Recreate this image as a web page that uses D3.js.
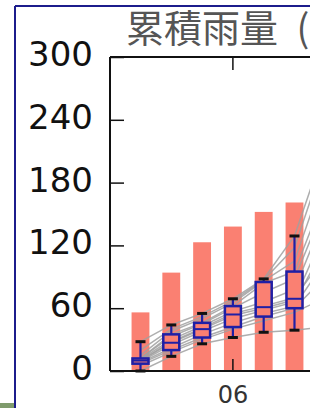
<!DOCTYPE html>
<html>
<head>
<meta charset="utf-8">
<script src="https://cdn.jsdelivr.net/npm/d3@7"></script>
<style>
  body { margin: 0; background: #fff; }
  svg { display: block; }
</style>
</head>
<body>
<script>
let width = 310,
    height = 408;

// months shown on the x axis (only the first six fit in the crop)
let months = ["03", "04", "05", "06", "07", "08", "09"];
let tickMonths = ["06"];
let yTicks = [0, 60, 120, 180, 240, 300];

// mean cumulative rainfall (bars)
let barValues = [56, 94, 123, 138, 152, 161];

// box plot stats per month
let boxLow  = [0, 14, 26, 32, 37, 39];
let boxQ1   = [7, 20, 32, 42, 52, 60];
let boxMed  = [10, 27, 40, 54, 61, 69];
let boxQ3   = [12, 35, 46, 62, 85, 95];
let boxHigh = [28, 44, 55, 69, 88, 129];

// individual years (grey lines)
let yearLines = [
  [0, 14, 26, 32, 37, 39, 42],
  [5, 18, 30, 40, 48, 56, 70],
  [7, 20, 32, 42, 52, 60, 90],
  [8, 22, 35, 46, 55, 62, 105],
  [9, 25, 38, 50, 58, 66, 120],
  [10, 27, 40, 53, 60, 68, 135],
  [10, 28, 41, 55, 62, 70, 110],
  [11, 30, 43, 57, 66, 78, 150],
  [12, 33, 45, 60, 75, 88, 160],
  [12, 35, 46, 62, 84, 95, 170],
  [15, 38, 50, 65, 86, 105, 190],
  [20, 40, 52, 67, 87, 118, 205],
  [28, 44, 55, 69, 88, 129, 215]
];

let svg = d3.select("body")
            .append("svg")
            .attr("width", width)
            .attr("height", height);

// outer frame of the screenshot
svg.append("rect").attr("x", 0).attr("y", 403).attr("width", 14).attr("height", 5)
   .attr("fill", "#7f9b6c");
svg.append("line").attr("x1", 15).attr("x2", 15).attr("y1", 6).attr("y2", height)
   .attr("stroke", "#1c1c8c").attr("stroke-width", 2);
svg.append("line").attr("x1", 15).attr("x2", width).attr("y1", 6).attr("y2", 6)
   .attr("stroke", "#1c1c8c").attr("stroke-width", 2);

let plotLeft = 110, plotTop = 57, plotBottom = 371;
let step = 30.8, pIn = 0.42, pOut = 0.70;

let xScale = d3.scaleBand()
               .domain(months)
               .range([plotLeft, plotLeft + step * (months.length - pIn + 2 * pOut)])
               .paddingInner(pIn)
               .paddingOuter(pOut);

let yScale = d3.scaleLinear()
               .domain([0, 300])
               .range([plotBottom, plotTop]);

let cx = function(i) { return xScale(months[i]) + xScale.bandwidth() / 2; };

// bars
svg.append("g")
   .selectAll("rect")
   .data(barValues)
   .enter()
   .append("rect")
   .attr("x", function(d, i) { return xScale(months[i]); })
   .attr("y", function(d) { return yScale(d); })
   .attr("width", xScale.bandwidth())
   .attr("height", function(d) { return yScale(0) - yScale(d); })
   .attr("fill", "#fa8072");

// grey year lines
let line = d3.line()
             .x(function(d, i) { return cx(i); })
             .y(function(d) { return yScale(d); });

svg.append("g")
   .selectAll("path")
   .data(yearLines)
   .enter()
   .append("path")
   .attr("d", line)
   .attr("fill", "none")
   .attr("stroke", "#a0a0a0")
   .attr("stroke-width", 1.5)
   .attr("opacity", 0.85);

// box plots
let boxColor = "#1f1fa6";
let boxW = 16, capW = 10;
let boxes = svg.append("g")
   .selectAll("g")
   .data(barValues.map(function(d, i) { return i; }))
   .enter()
   .append("g");

boxes.append("line")
     .attr("x1", cx).attr("x2", cx)
     .attr("y1", function(i) { return yScale(boxHigh[i]); })
     .attr("y2", function(i) { return yScale(boxLow[i]); })
     .attr("stroke", boxColor).attr("stroke-width", 2.2);

boxes.append("rect")
     .attr("x", function(i) { return cx(i) - boxW / 2; })
     .attr("y", function(i) { return yScale(boxQ3[i]); })
     .attr("width", boxW)
     .attr("height", function(i) { return yScale(boxQ1[i]) - yScale(boxQ3[i]); })
     .attr("fill", "#fa8072")
     .attr("stroke", boxColor).attr("stroke-width", 2.5);

boxes.append("line")
     .attr("x1", function(i) { return cx(i) - boxW / 2; })
     .attr("x2", function(i) { return cx(i) + boxW / 2; })
     .attr("y1", function(i) { return yScale(boxMed[i]); })
     .attr("y2", function(i) { return yScale(boxMed[i]); })
     .attr("stroke", boxColor).attr("stroke-width", 2);

[boxHigh, boxLow].forEach(function(arr) {
  boxes.append("line")
       .attr("x1", function(i) { return cx(i) - capW / 2; })
       .attr("x2", function(i) { return cx(i) + capW / 2; })
       .attr("y1", function(i) { return yScale(arr[i]); })
       .attr("y2", function(i) { return yScale(arr[i]); })
       .attr("stroke", "#111").attr("stroke-width", 3);
});

// axes (ticks point inward)
let yAxis = d3.axisLeft(yScale).tickValues(yTicks).tickSize(-14).tickSizeOuter(0).tickPadding(17);
let xAxis = d3.axisBottom(xScale).tickValues(tickMonths).tickSize(-12).tickSizeOuter(0).tickPadding(15);
let xTop = d3.axisTop(xScale).tickValues(tickMonths).tickSize(-13).tickSizeOuter(0).tickFormat("");

let gy = svg.append("g")
   .attr("transform", "translate(" + plotLeft + ",0)")
   .call(yAxis);
gy.selectAll("text")
  .attr("dy", "0.25em")
  .style("font-family", "DejaVu Sans")
  .style("font-size", "34px")
  .attr("fill", "#111");

let gx = svg.append("g")
   .attr("transform", "translate(0," + plotBottom + ")")
   .call(xAxis);
gx.selectAll("text")
  .style("font-family", "DejaVu Sans")
  .style("font-size", "24px")
  .attr("fill", "#333");

svg.append("g")
   .attr("transform", "translate(0," + plotTop + ")")
   .call(xTop);

svg.selectAll(".tick line").attr("stroke", "#111").attr("stroke-width", 1.5);
svg.selectAll(".domain").remove();

// spines
svg.append("line").attr("x1", plotLeft).attr("x2", plotLeft).attr("y1", plotTop).attr("y2", plotBottom)
   .attr("stroke", "#111").attr("stroke-width", 2);
svg.append("line").attr("x1", plotLeft).attr("x2", width).attr("y1", plotTop).attr("y2", plotTop)
   .attr("stroke", "#111").attr("stroke-width", 2);
svg.append("line").attr("x1", plotLeft).attr("x2", width).attr("y1", plotBottom).attr("y2", plotBottom)
   .attr("stroke", "#111").attr("stroke-width", 2);

// title (cut off at the right edge, as in the source)
let title = svg.append("text")
   .attr("x", 126)
   .attr("y", 42)
   .style("font-family", "Noto Sans CJK JP")
   .style("font-size", "38px")
   .attr("fill", "#555");
title.append("tspan").text("累積雨量");
title.append("tspan").attr("dx", 10).text(" (mm)");
</script>
</body>
</html>
